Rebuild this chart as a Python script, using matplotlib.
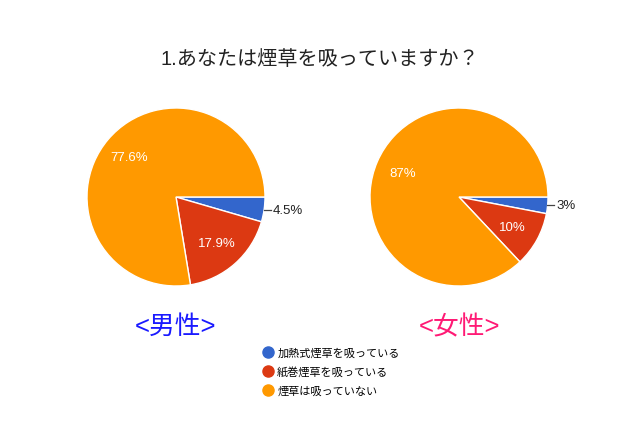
import matplotlib
matplotlib.use('Agg')
import matplotlib.pyplot as plt
from matplotlib.lines import Line2D
import numpy as np

plt.rcParams['font.family'] = ['Liberation Sans', 'Noto Sans CJK JP', 'DejaVu Sans']

title = '1.あなたは煙草を吸っていますか？'
categories = ['加熱式煙草を吸っている', '紙巻煙草を吸っている', '煙草は吸っていない']
colors = ['#3366cc', '#dc3912', '#ff9900']
male_values = [4.5, 17.9, 77.6]
male_labels = ['4.5%', '17.9%', '77.6%']
female_values = [3, 10, 87]
female_labels = ['3%', '10%', '87%']
group_names = ['<男性>', '<女性>']
group_colors = ['#1a1aff', '#ff1a75']

fig = plt.figure(figsize=(6.4, 4.27), dpi=100)
fig.text(0.5, 1 - 60 / 427, title, ha='center', va='center', fontsize=14.5,
         color='#222222')


def draw_pie(ax, values, labels, name, name_color):
    wedges, _ = ax.pie(values, colors=colors, startangle=0, counterclock=False,
                       radius=1, wedgeprops=dict(edgecolor='white', linewidth=1))
    total = sum(values)
    for w, v, lab in zip(wedges, values, labels):
        mid = np.deg2rad((w.theta1 + w.theta2) / 2)
        c, s = np.cos(mid), np.sin(mid)
        if v / total < 0.05:
            y = s
            ax.plot([0.99, 1.07], [y, y], color='#444444', lw=0.9, clip_on=False)
            ax.text(1.09, y, lab, ha='left', va='center', fontsize=9.5,
                    color='#222222')
        else:
            ax.text(0.69 * c, 0.69 * s, lab, ha='center', va='center',
                    fontsize=9.5, color='white')
    ax.set_xlim(-1, 1)
    ax.set_ylim(-1, 1)
    ax.set_aspect('equal')
    ax.axis('off')
    ax.text(0, -1.45, name, ha='center', va='center', fontsize=18.5,
            color=name_color)


W, H = 640, 427
r = 89
for cx, vals, labs, nm, nc in [(176, male_values, male_labels, group_names[0], group_colors[0]),
                               (459, female_values, female_labels, group_names[1], group_colors[1])]:
    ax = fig.add_axes([(cx - r) / W, (H - 198 - r) / H, 2 * r / W, 2 * r / H])
    draw_pie(ax, vals, labs, nm, nc)

handles = [Line2D([0], [0], marker='o', linestyle='', markersize=8,
                  markerfacecolor=c, markeredgecolor=c) for c in colors]
fig.legend(handles, categories, loc='upper left',
           bbox_to_anchor=(255 / W, 1 - 344 / H), frameon=False, fontsize=8,
           handletextpad=0.1, labelspacing=0.75, borderaxespad=0, handlelength=1.5)

fig.savefig('out.png', dpi=100)
